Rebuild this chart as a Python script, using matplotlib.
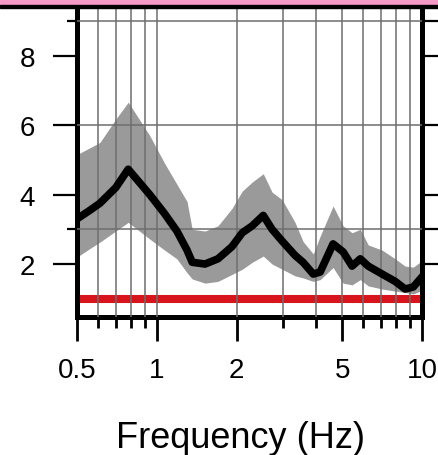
import numpy as np
import matplotlib
matplotlib.use('Agg')
import matplotlib.pyplot as plt
from matplotlib.patches import Rectangle
from matplotlib.ticker import FixedLocator, NullFormatter, NullLocator

plt.rcParams['font.family'] = ['Liberation Sans', 'DejaVu Sans']

# data
freq = [0.50, 0.56, 0.61, 0.70, 0.78, 0.94, 1.07, 1.19, 1.30, 1.36,
        1.52, 1.70, 1.92, 2.10, 2.29, 2.52, 2.72, 2.97, 3.32, 3.56,
        3.89, 4.13, 4.62, 5.04, 5.45, 5.85, 6.27, 7.08, 7.92, 8.64,
        9.27, 9.85]
mean = [3.30, 3.55, 3.75, 4.20, 4.73, 4.00, 3.45, 2.95, 2.40, 2.05,
        2.00, 2.15, 2.50, 2.90, 3.10, 3.40, 3.00, 2.66, 2.25, 2.05,
        1.71, 1.77, 2.58, 2.35, 1.94, 2.15, 1.94, 1.71, 1.50, 1.28,
        1.34, 1.57]
upper = [5.15, 5.35, 5.50, 6.17, 6.66, 5.70, 4.90, 4.30, 3.80, 3.00,
         2.95, 3.10, 3.60, 4.10, 4.36, 4.60, 4.07, 3.85, 3.20, 2.65,
         2.29, 2.80, 3.67, 3.10, 2.90, 3.00, 2.55, 2.40, 2.15, 1.94,
         1.91, 2.06]
lower = [2.20, 2.45, 2.63, 2.95, 3.20, 2.72, 2.40, 2.15, 1.75, 1.57,
         1.45, 1.50, 1.70, 1.85, 2.05, 2.23, 2.00, 1.85, 1.66, 1.60,
         1.50, 1.55, 1.90, 1.45, 1.40, 1.55, 1.37, 1.28, 1.22, 1.18,
         1.14, 1.22]
ref_level = 1.0

xmajor = [0.5, 1, 2, 5, 10]
xmajor_labels = ['0.5', '1', '2', '5', '10']
xminor = [0.6, 0.7, 0.8, 0.9, 3, 4, 6, 7, 8, 9]
ymajor = [2, 4, 6, 8]
yminor = [3, 6, 9]
xgrid = [0.6, 0.7, 0.8, 0.9, 1, 2, 3, 4, 5, 6, 7, 8, 9]
ygrid = [3, 6, 9]

fig = plt.figure(figsize=(4.39, 4.56), dpi=100)
ax = fig.add_axes([77 / 439, 138 / 456, 345 / 439, 310 / 456])

ax.fill_between(freq, lower, upper, color='#9a9a9a', lw=0, zorder=1)
ax.axhline(ref_level, color='#d8141c', lw=5.8, zorder=2)
for g in xgrid:
    ax.axvline(g, color='#6e6e6e', lw=1.1, zorder=3)
for g in ygrid:
    ax.axhline(g, color='#6e6e6e', lw=1.1, zorder=3)
ax.plot(freq, mean, color='black', lw=5.5, solid_joinstyle='round', zorder=4)

ax.set_xscale('log')
ax.set_xlim(0.5, 10)
ax.set_ylim(0.475, 9.4)

ax.xaxis.set_major_locator(FixedLocator(xmajor))
ax.set_xticklabels(xmajor_labels)
ax.xaxis.set_minor_locator(FixedLocator(xminor))
ax.xaxis.set_minor_formatter(NullFormatter())
ax.yaxis.set_major_locator(FixedLocator(ymajor))
ax.set_yticklabels([str(v) for v in ymajor])
ax.yaxis.set_minor_locator(FixedLocator(yminor))

ax.tick_params(axis='x', which='major', length=17, width=2, pad=12, labelsize=20)
ax.tick_params(axis='x', which='minor', length=8, width=2)
ax.tick_params(axis='y', which='major', length=17, width=1.6, pad=13, labelsize=20)
ax.tick_params(axis='y', which='minor', length=7, width=1.6)

for side in ['left', 'bottom', 'right']:
    ax.spines[side].set_linewidth(3.6)
ax.spines['top'].set_visible(False)

# ticks on the right side, unlabeled
ax2 = ax.twinx()
ax2.set_ylim(ax.get_ylim())
ax2.yaxis.set_major_locator(FixedLocator([2, 3, 4, 6, 8, 9]))
ax2.yaxis.set_minor_locator(NullLocator())
ax2.set_yticklabels([])
ax2.tick_params(axis='y', length=14, width=1.6)
for s in ax2.spines.values():
    s.set_visible(False)

fig.text(241 / 439, 8 / 456, 'Frequency (Hz)', ha='center', va='baseline', fontsize=26)

# header strip at the top
fig.patches.append(Rectangle((0, 1 - 6 / 456), 1, 6 / 456, transform=fig.transFigure,
                             color='#f59ac6', zorder=5))
fig.patches.append(Rectangle((0, 1 - 9 / 456), 1, 3 / 456, transform=fig.transFigure,
                             color='black', zorder=5))

fig.savefig('out.png', dpi=100)
